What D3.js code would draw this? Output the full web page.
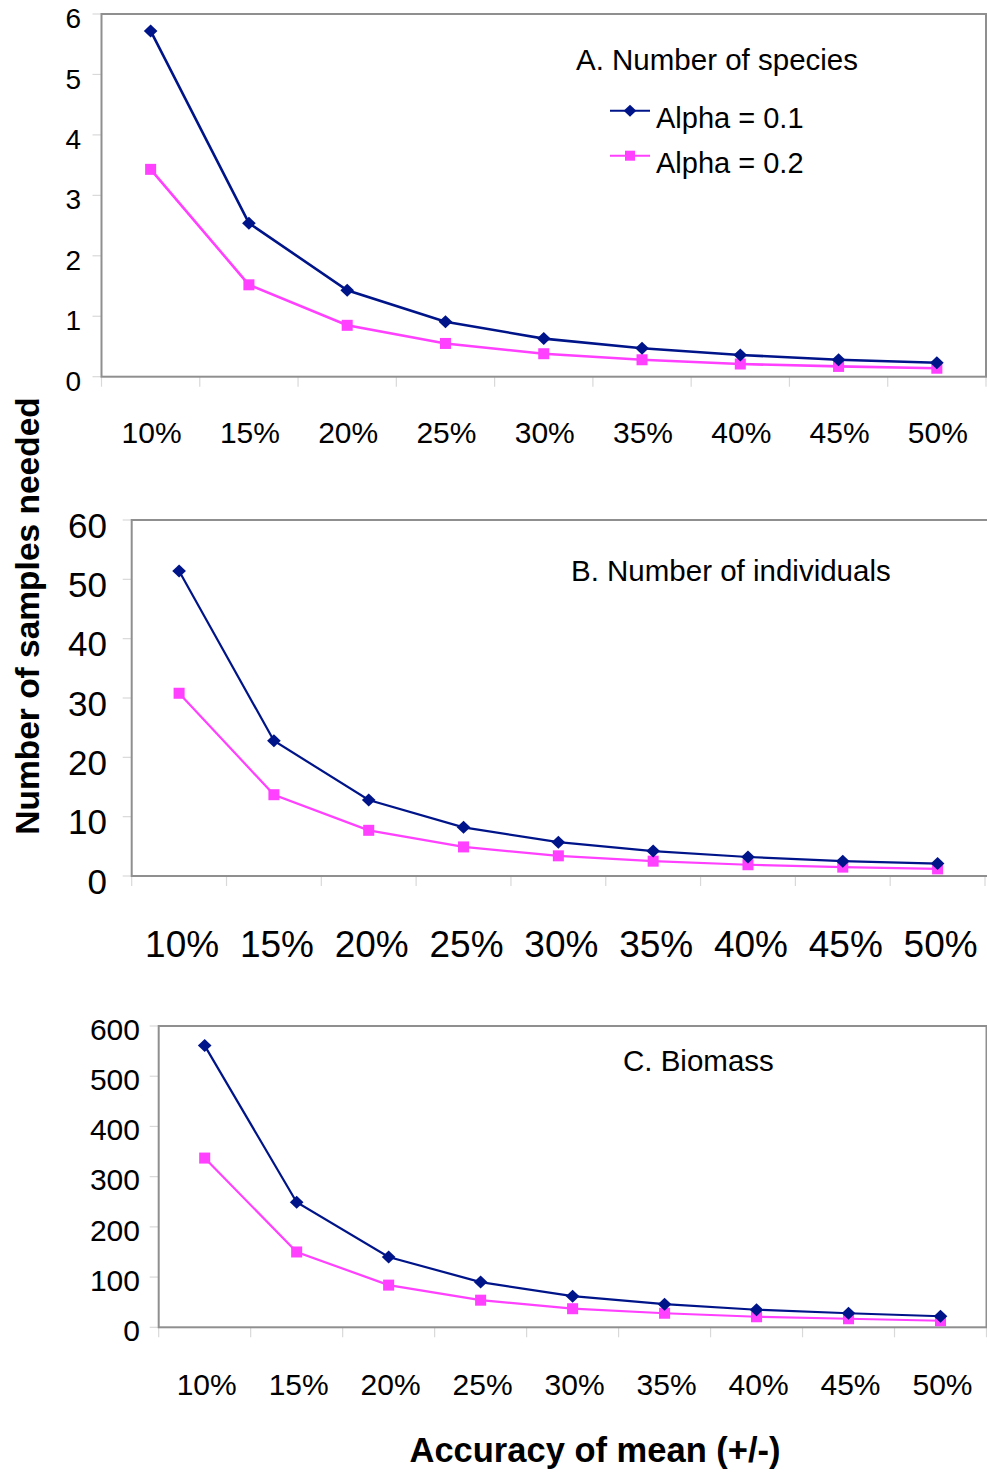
<!DOCTYPE html>
<html>
<head>
<meta charset="utf-8">
<script src="https://cdn.jsdelivr.net/npm/d3@7"></script>
<style>
  html, body { margin: 0; padding: 0; background: #fff; }
  svg { display: block; font-family: "Liberation Sans", Arial, sans-serif; }
</style>
</head>
<body>
<svg id="chart" width="987" height="1473"></svg>
<script>
// ---- Data ----
const categories = ["10%", "15%", "20%", "25%", "30%", "35%", "40%", "45%", "50%"];
const seriesNames = ["Alpha = 0.1", "Alpha = 0.2"];

const speciesAlpha01 = [5.72, 2.54, 1.43, 0.91, 0.63, 0.47, 0.36, 0.28, 0.23];
const speciesAlpha02 = [3.43, 1.52, 0.85, 0.55, 0.38, 0.28, 0.21, 0.17, 0.14];

const individualsAlpha01 = [51.4, 22.8, 12.8, 8.2, 5.7, 4.2, 3.2, 2.5, 2.1];
const individualsAlpha02 = [30.8, 13.7, 7.7, 4.9, 3.4, 2.5, 1.9, 1.5, 1.2];

const biomassAlpha01 = [561, 249, 140, 90, 62, 46, 35, 28, 22];
const biomassAlpha02 = [337, 150, 84, 54, 37, 28, 21, 17, 13];

const ticksA = [0, 1, 2, 3, 4, 5, 6];
const ticksB = [0, 10, 20, 30, 40, 50, 60];
const ticksC = [0, 100, 200, 300, 400, 500, 600];

const colors = ["#001489", "#ff40ff"];

// ---- Layout per panel ----
const panels = [
  { title: "A. Number of species", s1: speciesAlpha01, s2: speciesAlpha02, ticks: ticksA, max: 6,
    x0: 101.5, x1: 986, y0: 14, y1: 376.7, rightBorder: true,
    yFont: 28, yLabelX: 81, yDy: 4, xFont: 30, xLabelY: 443, xLabelDx: 1,
    titleX: 576, titleY: 70, titleFont: 29.5, lineW: 2.6, legend: true },
  { title: "B. Number of individuals", s1: individualsAlpha01, s2: individualsAlpha02, ticks: ticksB, max: 60,
    x0: 131.7, x1: 985, y0: 520, y1: 876, rightBorder: false,
    yFont: 35, yLabelX: 107, yDy: 5, xFont: 37, xLabelY: 957, xLabelDx: 3,
    titleX: 571, titleY: 581, titleFont: 29.5, lineW: 2.2, legend: false },
  { title: "C. Biomass", s1: biomassAlpha01, s2: biomassAlpha02, ticks: ticksC, max: 600,
    x0: 158.7, x1: 986.5, y0: 1026, y1: 1327.3, rightBorder: true,
    yFont: 30, yLabelX: 140, yDy: 3, xFont: 30, xLabelY: 1395, xLabelDx: 2,
    titleX: 623, titleY: 1071, titleFont: 29.5, lineW: 2.2, legend: false }
];

const svg = d3.select("#chart");

function diamond(g, x, y, c, r) {
  g.append("path")
    .attr("d", `M${x},${y - r}L${x + r * 1.05},${y}L${x},${y + r}L${x - r * 1.05},${y}Z`)
    .attr("fill", c);
}
function square(g, x, y, c, s) {
  g.append("rect").attr("x", x - s / 2).attr("y", y - s / 2)
    .attr("width", s).attr("height", s).attr("fill", c);
}

panels.forEach(p => {
  const g = svg.append("g");
  const x = d3.scaleBand().domain(categories).range([p.x0, p.x1]).padding(0);
  const y = d3.scaleLinear().domain([0, p.max]).range([p.y1, p.y0]);

  // y tick marks (outside, light gray)
  g.selectAll(".yt").data(p.ticks).enter().append("line")
    .attr("x1", p.x0 - 9).attr("x2", p.x0)
    .attr("y1", d => y(d)).attr("y2", d => y(d))
    .attr("stroke", "#d9d9d9").attr("stroke-width", 1.2);
  // y tick labels
  g.selectAll(".yl").data(p.ticks).enter().append("text")
    .attr("x", p.yLabelX).attr("y", d => y(d) + p.yDy)
    .attr("dy", "0.36em")
    .attr("text-anchor", "end")
    .attr("font-size", p.yFont)
    .attr("fill", "#000")
    .text(d => d);

  // x tick marks at band boundaries
  const bounds = categories.map(c => x(c)).concat([p.x1]);
  g.selectAll(".xt").data(bounds).enter().append("line")
    .attr("x1", d => d).attr("x2", d => d)
    .attr("y1", p.y1).attr("y2", p.y1 + 10)
    .attr("stroke", "#d9d9d9").attr("stroke-width", 1.2);
  // x labels
  g.selectAll(".xl").data(categories).enter().append("text")
    .attr("x", d => x(d) + x.bandwidth() / 2 + p.xLabelDx)
    .attr("y", p.xLabelY)
    .attr("text-anchor", "middle")
    .attr("font-size", p.xFont)
    .attr("fill", "#000")
    .text(d => d);

  // plot frame
  if (p.rightBorder) {
    g.append("rect").attr("x", p.x0).attr("y", p.y0)
      .attr("width", p.x1 - p.x0).attr("height", p.y1 - p.y0)
      .attr("fill", "none").attr("stroke", "#8f8f8f").attr("stroke-width", 2);
  } else {
    const frame = d3.path();
    frame.moveTo(987, p.y0); frame.lineTo(p.x0, p.y0);
    frame.lineTo(p.x0, p.y1); frame.lineTo(987, p.y1);
    g.append("path").attr("d", frame.toString())
      .attr("fill", "none").attr("stroke", "#8f8f8f").attr("stroke-width", 2);
  }

  const line = d3.line()
    .x((d, i) => x(categories[i]) + x.bandwidth() / 2)
    .y(d => y(d));

  g.append("path").datum(p.s2).attr("d", line)
    .attr("fill", "none").attr("stroke", colors[1]).attr("stroke-width", p.lineW);
  g.append("path").datum(p.s1).attr("d", line)
    .attr("fill", "none").attr("stroke", colors[0]).attr("stroke-width", p.lineW);
  p.s2.forEach((v, i) => square(g, x(categories[i]) + x.bandwidth() / 2, y(v), colors[1], 11));
  p.s1.forEach((v, i) => diamond(g, x(categories[i]) + x.bandwidth() / 2, y(v), colors[0], 6.5));

  // panel title
  g.append("text").attr("x", p.titleX).attr("y", p.titleY)
    .attr("font-size", p.titleFont).attr("fill", "#000").text(p.title);

  if (p.legend) {
    const ly = [110.7, 155.7];
    seriesNames.forEach((n, i) => {
      g.append("line").attr("x1", 610).attr("x2", 650).attr("y1", ly[i]).attr("y2", ly[i])
        .attr("stroke", colors[i]).attr("stroke-width", 2);
      if (i === 0) diamond(g, 630, ly[i], colors[0], 6); else square(g, 630, ly[i], colors[1], 10);
      g.append("text").attr("x", 656).attr("y", ly[i] + 17)
        .attr("font-size", 29).attr("fill", "#000").text(n);
    });
  }
});

// axis titles
svg.append("text")
  .attr("transform", "translate(39,616) rotate(-90)")
  .attr("text-anchor", "middle")
  .attr("font-size", 33.5).attr("font-weight", "bold").attr("fill", "#000")
  .text("Number of samples needed");
svg.append("text")
  .attr("x", 595).attr("y", 1462)
  .attr("text-anchor", "middle")
  .attr("font-size", 34.5).attr("font-weight", "bold").attr("fill", "#000")
  .text("Accuracy of mean (+/-)");
</script>
</body>
</html>
